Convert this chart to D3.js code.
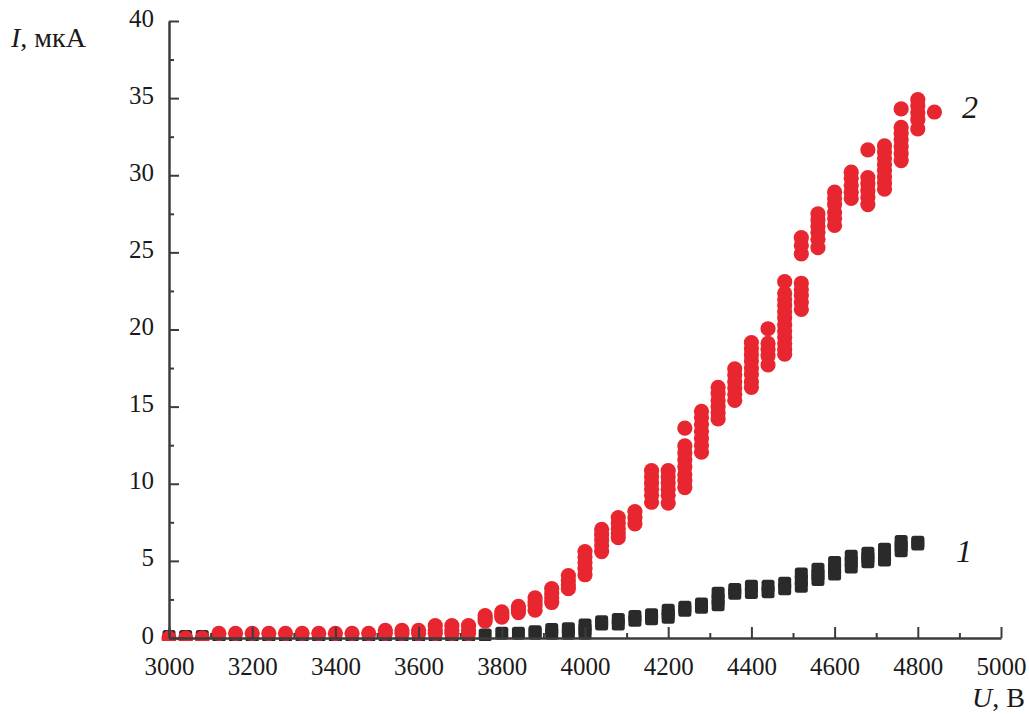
<!DOCTYPE html>
<html>
<head>
<meta charset="utf-8">
<script src="https://cdn.jsdelivr.net/npm/d3@7"></script>
<style>
  body { margin: 0; background: #fff; }
  svg { display: block; font-family: "Liberation Serif", "Times New Roman", serif; }
</style>
</head>
<body>
<div id="chart"></div>
<script>
// voltages (В) and current readings (мкА), several readings per voltage step
const voltages2 = [3000, 3040, 3080, 3120, 3160, 3200, 3240, 3280, 3320, 3360, 3400, 3440, 3480,
  3520, 3560, 3600, 3640, 3680, 3720, 3760, 3800, 3840, 3880, 3920, 3960, 4000, 4040, 4080,
  4120, 4160, 4200, 4240, 4280, 4320, 4360, 4400, 4440, 4480, 4520, 4560, 4600, 4640, 4680,
  4720, 4760, 4800, 4840]
const current2 = [
  [0], [0], [0], [0.3], [0.3], [0.3], [0.3], [0.3], [0.3], [0.3], [0.3], [0.3], [0.3],
  [0.5, 0.3], [0.5, 0.3], [0.5, 0.3], [0.8, 0.5, 0.3], [0.8, 0.5, 0.3], [0.8, 0.5, 0.3],
  [1.45, 1.25, 1.1], [1.7, 1.5, 1.35], [2.05, 1.85, 1.65], [2.6, 2.35, 2.1, 1.8],
  [3.2, 2.9, 2.6, 2.3], [4.05, 3.75, 3.45, 3.2],
  [5.6, 5.25, 4.9, 4.5, 4.1], [7.05, 6.7, 6.35, 6.0, 5.6], [7.8, 7.45, 7.1, 6.8, 6.5], [8.2, 7.8, 7.4],
  [10.85, 10.45, 10.05, 9.65, 9.25, 8.8], [10.85, 10.45, 10.05, 9.65, 9.25, 8.75],
  [13.6, 12.45, 12.0, 11.55, 11.1, 10.6, 10.2, 9.75],
  [14.7, 14.3, 13.85, 13.4, 12.95, 12.5, 12.05], [16.25, 15.85, 15.4, 15.0, 14.6, 14.2],
  [17.45, 17.05, 16.6, 16.2, 15.8, 15.4], [19.15, 18.75, 18.35, 17.95, 17.5, 17.1, 16.6, 16.25],
  [20.05, 19.1, 18.7, 18.3, 17.7],
  [23.1, 22.35, 21.95, 21.55, 21.15, 20.75, 20.3, 19.9, 19.5, 19.1, 18.7, 18.4],
  [25.95, 25.45, 24.9, 23.0, 22.6, 22.2, 21.75, 21.3],
  [27.5, 27.1, 26.7, 26.3, 25.85, 25.3], [28.9, 28.5, 28.1, 27.6, 27.2, 26.75],
  [30.2, 29.8, 29.35, 28.9, 28.5], [31.65, 29.85, 29.45, 29.0, 28.55, 28.1],
  [31.9, 31.5, 31.1, 30.7, 30.3, 29.9, 29.5, 29.1], [34.3, 33.1, 32.7, 32.3, 31.85, 31.4, 30.95],
  [34.9, 34.5, 34.05, 33.6, 33.0], [34.1]
]

const voltages1 = [3000, 3040, 3080, 3120, 3160, 3200, 3240, 3280, 3320, 3360, 3400, 3440, 3480,
  3520, 3560, 3600, 3640, 3680, 3720, 3760, 3800, 3840, 3880, 3920, 3960, 4000, 4040, 4080,
  4120, 4160, 4200, 4240, 4280, 4320, 4360, 4400, 4440, 4480, 4520, 4560, 4600, 4640, 4680,
  4720, 4760, 4800]
const current1 = [
  [0.1], [0.1], [0.1], [0.1], [0.1], [0.1], [0.1], [0.1], [0.1], [0.1], [0.1], [0.1], [0.1],
  [0.1], [0.1], [0.1], [0.1], [0.1], [0.1],
  [0.2], [0.3], [0.3], [0.4, 0.3], [0.55, 0.3], [0.6, 0.3], [0.85, 0.55, 0.3], [1.05, 0.9], [1.2, 0.9],
  [1.4, 1.15], [1.5, 1.25], [1.8, 1.55, 1.35], [2.0, 1.8], [2.2, 2.0], [2.9, 2.5, 2.15], [3.15, 2.9],
  [3.35, 2.95], [3.35, 3.0], [3.55, 3.2], [4.15, 3.75, 3.35], [4.45, 4.1, 3.8], [4.9, 4.5, 4.15],
  [5.3, 4.95, 4.6], [5.5, 5.2, 4.95], [5.75, 5.4, 5.05], [6.25, 5.95, 5.65], [6.2, 6.1]
]

const xTicks = [3000, 3200, 3400, 3600, 3800, 4000, 4200, 4400, 4600, 4800, 5000]
const yTicks = [0, 5, 10, 15, 20, 25, 30, 35, 40]

const width = 1029
const height = 714
const axisColor = "#3c3c3c"

const svg = d3.select("#chart")
  .append("svg")
    .attr("width", width)
    .attr("height", height)

const x = d3.scaleLinear().domain([3000, 5000]).range([169, 1001])
const y = d3.scaleLinear().domain([0, 40]).range([638, 21])

// flatten into points
const flat = (vs, cs) => vs.flatMap((v, i) => cs[i].map(c => ({u: v, i: c})))
const pts1 = flat(voltages1, current1)
const pts2 = flat(voltages2, current2)

svg.append("defs")
  .append("clipPath")
    .attr("id", "plot")
  .append("rect")
    .attr("x", 150).attr("y", 0)
    .attr("width", 850).attr("height", 641)

const marks = svg.append("g").attr("clip-path", "url(#plot)")

// curve 1 – black squares
const side = 13
marks.append("g")
  .selectAll("rect")
  .data(pts1)
  .join("rect")
    .attr("x", d => x(d.u) - side / 2)
    .attr("y", d => y(d.i) - side / 2)
    .attr("width", side)
    .attr("height", side)
    .attr("rx", 2.5)
    .attr("fill", "#2a2a2a")

// curve 2 – red circles
marks.append("g")
  .selectAll("circle")
  .data(pts2)
  .join("circle")
    .attr("cx", d => x(d.u))
    .attr("cy", d => y(d.i))
    .attr("r", 7.6)
    .attr("fill", "#e8262f")

// axes
const styleAxis = g => {
  g.select(".domain").attr("stroke", axisColor).attr("stroke-width", 2.5)
  g.selectAll(".tick line").attr("stroke", axisColor).attr("stroke-width", 2)
  g.selectAll(".tick text")
    .attr("fill", "#1a1a1a")
    .style("font-size", "25px")
    .style("font-family", "'Liberation Serif', 'Times New Roman', serif")
}

// minor ticks first
svg.append("g")
  .attr("transform", "translate(0," + y(0) + ")")
  .call(d3.axisBottom(x).tickValues(xTicks.slice(0, -1).map(v => v + 100)).tickSize(-5).tickSizeOuter(0).tickFormat(""))
  .call(g => g.select(".domain").remove())
  .call(g => g.selectAll(".tick line").attr("stroke", axisColor).attr("stroke-width", 2))

svg.append("g")
  .attr("transform", "translate(" + x(3000) + ",0)")
  .call(d3.axisLeft(y).tickValues(yTicks.slice(0, -1).map(v => v + 2.5)).tickSize(-5).tickSizeOuter(0).tickFormat(""))
  .call(g => g.select(".domain").remove())
  .call(g => g.selectAll(".tick line").attr("stroke", axisColor).attr("stroke-width", 2))

svg.append("g")
  .attr("transform", "translate(0," + y(0) + ")")
  .call(d3.axisBottom(x).tickValues(xTicks).tickSize(-11).tickSizeOuter(0).tickPadding(19).tickFormat(d3.format("d")))
  .call(styleAxis)

svg.append("g")
  .attr("transform", "translate(" + x(3000) + ",0)")
  .call(d3.axisLeft(y).tickValues(yTicks).tickSize(-10).tickSizeOuter(0).tickPadding(15).tickFormat(d3.format("d")))
  .call(styleAxis)
  .call(g => g.selectAll(".tick text").attr("dy", "0.2em"))

// axis titles
const yTitle = svg.append("text")
  .attr("x", 11)
  .attr("y", 47)
  .style("font-size", "28px")
  .attr("fill", "#1a1a1a")
yTitle.append("tspan").style("font-style", "italic").text("I")
yTitle.append("tspan").text(", мкА")

const xTitle = svg.append("text")
  .attr("x", 1025)
  .attr("y", 707)
  .attr("text-anchor", "end")
  .style("font-size", "28px")
  .attr("fill", "#1a1a1a")
xTitle.append("tspan").style("font-style", "italic").text("U")
xTitle.append("tspan").text(", В")

// curve labels
svg.append("text")
  .attr("x", 962).attr("y", 118)
  .style("font-size", "32px").style("font-style", "italic")
  .attr("fill", "#1a1a1a")
  .text("2")

svg.append("text")
  .attr("x", 956).attr("y", 562)
  .style("font-size", "32px").style("font-style", "italic")
  .attr("fill", "#1a1a1a")
  .text("1")
</script>
</body>
</html>
